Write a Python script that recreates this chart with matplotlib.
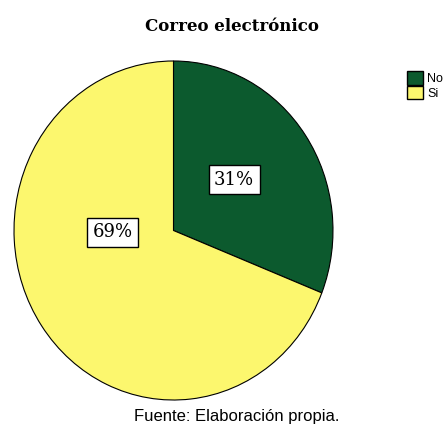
import matplotlib.pyplot as plt
from matplotlib.patches import Patch

categories = ["No", "Si"]
values = [31, 69]
colors = ["#0c5a2e", "#fcf76e"]

fig = plt.figure(figsize=(4.46, 4.28), dpi=100)
ax = fig.add_axes([0.0314, 0.0654, 0.7152, 0.7921])

wedges, _ = ax.pie(values, colors=colors, startangle=90, counterclock=False,
                   wedgeprops=dict(edgecolor="black", linewidth=0.8))
ax.set_aspect("auto")
ax.set_xlim(-1, 1)
ax.set_ylim(-1, 1)
ax.axis("off")

# percentage labels in little boxes
label_pos = [(0.38, 0.30), (-0.38, -0.01)]
for v, (x, y) in zip(values, label_pos):
    ax.text(x, y, f"{v}%", ha="center", va="center", fontsize=13,
            family="DejaVu Serif",
            bbox=dict(boxstyle="square,pad=0.3", fc="white", ec="black", lw=1))

fig.text(0.52, 0.938, "Correo electrónico", ha="center", va="center",
         fontsize=12, fontweight="bold", family="DejaVu Serif")

handles = [Patch(facecolor=c, edgecolor="black", label=l) for c, l in zip(colors, categories)]
fig.legend(handles=handles, loc="upper left", bbox_to_anchor=(0.912, 0.834),
           frameon=False, handlelength=1.3, handleheight=1.3,
           handletextpad=0.35, labelspacing=0.05, borderpad=0, borderaxespad=0,
           prop={"family": "Liberation Sans", "size": 9})

fig.text(0.53, 0.026, "Fuente: Elaboración propia.", ha="center", va="center",
         fontsize=12, family="Liberation Sans")

fig.savefig("out.png", dpi=100)
